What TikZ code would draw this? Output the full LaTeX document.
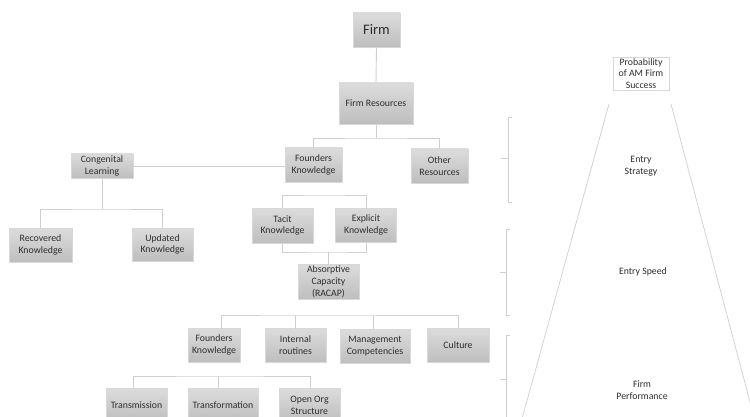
\documentclass[tikz,border=0pt]{standalone}
\usepackage{fontspec}
\setmainfont{Carlito}
\definecolor{linegray}{HTML}{CFCFCF}
\definecolor{boxtop}{HTML}{DCDCDC}
\definecolor{boxbot}{HTML}{BEBEBE}
\definecolor{boxedge}{HTML}{D8D8D8}
\definecolor{txt}{HTML}{2E2E2E}
\tikzset{
  box/.style={draw=boxedge, line width=0.6pt, top color=boxtop, bottom color=boxbot,
    inner sep=0pt, align=center, text=txt, font=\fontsize{9.8}{11.8}\selectfont},
  wbox/.style={draw=boxedge, line width=0.6pt, fill=white,
    inner sep=0pt, align=center, text=txt, font=\fontsize{9.8}{11.8}\selectfont},
  conn/.style={draw=linegray, line width=0.9pt},
  lbl/.style={align=center, text=txt, font=\fontsize{9.8}{11.8}\selectfont}
}
\begin{document}
\begin{tikzpicture}[x=1pt,y=-1pt]
\useasboundingbox (0,0) rectangle (750,417);
\fill[white] (0,0) rectangle (750,417);
\clip (0,0) rectangle (750,417);
% boxes
\node[box, minimum width=47, minimum height=34, font=\fontsize{14.5}{16}\selectfont] (firm) at (376.5,30) {Firm};
\node[box, minimum width=74, minimum height=41] (res) at (376,103.5) {Firm Resources};
\node[box, minimum width=57, minimum height=34] (fk) at (313.5,165) {Founders\\Knowledge};
\node[box, minimum width=57, minimum height=34] (other) at (439.5,166) {Other\\Resources};
\node[box, minimum width=62, minimum height=24] (cong) at (102,166) {Congenital\\Learning};
\node[box, minimum width=63, minimum height=34] (rec) at (40.5,245) {Recovered\\Knowledge};
\node[box, minimum width=61, minimum height=33] (upd) at (162.5,244.5) {Updated\\Knowledge};
\node[box, minimum width=61, minimum height=35] (tacit) at (282.5,225.5) {Tacit\\Knowledge};
\node[box, minimum width=61, minimum height=34] (expl) at (366,225) {Explicit\\Knowledge};
\node[box, minimum width=61, minimum height=35] (acap) at (328.5,281.5) {Absorptive\\Capacity\\(RACAP)};
\node[box, minimum width=52, minimum height=34] (fk2) at (214,345) {Founders\\Knowledge};
\node[box, minimum width=61, minimum height=34] (intr) at (295.5,345) {Internal\\routines};
\node[box, minimum width=70, minimum height=34] (mgmt) at (375,346) {Management\\Competencies};
\node[box, minimum width=62, minimum height=34] (cult) at (458,345) {Culture};
\node[box, minimum width=61, minimum height=34] (trans) at (136.5,405) {Transmission};
\node[box, minimum width=70, minimum height=34] (transf) at (223,405) {Transformation};
\node[box, minimum width=61, minimum height=34] (open) at (309.5,405) {Open Org\\Structure};
\node[wbox, minimum width=56, minimum height=33] (prob) at (641,73.5) {Probability\\of AM Firm\\Success};
% connectors
\coordinate (b1) at (376,138);
\draw[conn] (firm.south) -- (res.north);
\draw[conn] (res.south) -- (b1);
\draw[conn] (fk.north) |- (b1) -| (other.north);
\draw[conn] (cong.east) -- (cong.east -| fk.west);
\coordinate (b2) at (102,209);
\draw[conn] (cong.south) -- (b2);
\draw[conn] (rec.north) |- (b2) -| (upd.north);
\coordinate (b3) at (325,195);
\draw[conn] (tacit.north) |- (b3) -| (expl.north);
\coordinate (b4) at (328.5,252);
\draw[conn] (tacit.south) |- (b4) -| (expl.south);
\draw[conn] (b4) -- (acap.north);
\coordinate (b5) at (295.5,315);
\draw[conn] ([xshift=7]fk2.north) |- (b5) -| (cult.north);
\draw[conn] (intr.north) -- (b5);
\draw[conn] ([xshift=-2]mgmt.north) -- ++(0,-14);
\coordinate (b6) at (218,376);
\draw[conn] ([xshift=-3.5]trans.north) |- (b6) -| ([xshift=0.5]open.north);
\draw[conn] ([xshift=-5]transf.north) -- (b6);
% funnel
\draw[conn, line width=0.7pt] (609,104) -- (522.5,417);
\draw[conn, line width=0.7pt] (671,104) -- (754,417);
% brackets
\draw[conn] (512,117) -- (508,117) -- (508,202) -- (512,202);
\draw[conn] (501,158) -- (508,158);
\draw[conn] (510,229) -- (506,229) -- (506,315) -- (510,315);
\draw[conn] (500,272) -- (506,272);
\draw[conn] (510,335) -- (506,335) -- (506,423) -- (510,423);
\draw[conn] (500,379) -- (506,379);
% labels
\node[lbl] (es) at (641,166) {Entry\\Strategy};
\node[lbl] (sp) at (643,272) {Entry Speed};
\node[lbl] (fp) at (642,390) {Firm\\Performance};
\end{tikzpicture}
\end{document}
